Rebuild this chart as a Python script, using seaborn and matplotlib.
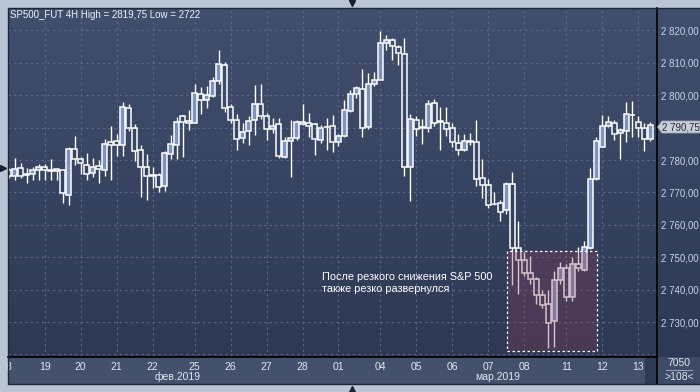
import numpy as np
import pandas as pd
import matplotlib
matplotlib.use("Agg")
import matplotlib.pyplot as plt
from matplotlib.patches import Rectangle, Polygon
import seaborn as sns

# ============================================================================
# DATA  (4H candles, SP500 futures, 18 Feb - 13 Mar 2019)
# ============================================================================

opens = [2777.0, 2775.0, 2777.4, 2775.5, 2775.8, 2776.8, 2778.0, 2776.8, 2776.5, 2776.8,
         2769.2, 2783.5, 2780.2, 2778.6, 2776.1, 2778.3, 2776.8, 2785.5, 2785.8, 2784.5,
         2796.2, 2790.0, 2783.0, 2777.8, 2775.3, 2775.3, 2772.1, 2781.9, 2784.8, 2793.6,
         2792.0, 2791.3, 2800.3, 2798.4, 2799.9, 2804.5, 2809.5, 2796.4, 2792.5, 2786.9,
         2789.1, 2792.5, 2797.4, 2793.7, 2789.6, 2791.0, 2781.0, 2785.9, 2786.8, 2791.6,
         2791.3, 2791.0, 2786.3, 2790.2, 2790.6, 2785.5, 2787.5, 2795.0, 2800.5, 2802.0,
         2790.3, 2803.5, 2804.8, 2816.2, 2817.1, 2815.0, 2812.7, 2777.9, 2792.4, 2790.0,
         2790.0, 2797.7, 2791.8, 2791.5, 2789.9, 2785.4, 2783.2, 2785.7, 2785.6, 2774.5,
         2772.4, 2766.4, 2766.6, 2764.5, 2772.7, 2752.9, 2749.1, 2745.0, 2743.4, 2738.3,
         2735.7, 2730.3, 2743.1, 2746.8, 2737.6, 2747.9, 2746.2, 2753.0, 2774.1, 2783.9,
         2790.6, 2791.3, 2788.5, 2789.0, 2793.8, 2791.8, 2790.0, 2786.6]
highs = [2777.5, 2780.5, 2779.0, 2777.7, 2778.0, 2778.7, 2778.7, 2780.2, 2777.2, 2777.0,
         2784.1, 2787.3, 2781.0, 2782.2, 2780.5, 2780.0, 2786.6, 2790.6, 2788.0, 2797.8,
         2797.2, 2791.0, 2784.6, 2781.8, 2778.0, 2776.1, 2782.8, 2787.7, 2793.3, 2793.8,
         2795.4, 2803.4, 2802.6, 2802.9, 2805.7, 2814.0, 2810.2, 2797.4, 2794.1, 2791.3,
         2793.5, 2803.1, 2803.4, 2794.5, 2793.1, 2793.1, 2787.1, 2792.5, 2792.5, 2797.2,
         2794.5, 2791.3, 2790.7, 2793.1, 2793.8, 2788.2, 2798.4, 2801.5, 2803.0, 2808.2,
         2806.9, 2807.3, 2819.75, 2818.5, 2817.8, 2815.6, 2817.8, 2794.3, 2793.5, 2792.7,
         2798.4, 2798.9, 2796.5, 2796.5, 2791.3, 2788.2, 2788.2, 2788.5, 2792.5, 2780.2,
         2774.3, 2770.2, 2767.6, 2773.2, 2776.3, 2761.1, 2751.6, 2750.3, 2743.8, 2739.8,
         2739.8, 2745.7, 2748.6, 2748.0, 2750.2, 2753.1, 2755.0, 2777.7, 2787.1, 2793.8,
         2793.5, 2792.3, 2790.0, 2797.8, 2798.1, 2793.5, 2791.3, 2791.6]
lows = [2774.5, 2774.0, 2774.6, 2773.0, 2774.0, 2774.0, 2774.0, 2774.0, 2774.0, 2766.6,
        2766.0, 2778.4, 2775.8, 2774.0, 2774.8, 2773.0, 2775.1, 2773.7, 2781.2, 2781.4,
        2789.0, 2779.8, 2768.6, 2767.6, 2771.4, 2770.1, 2770.5, 2780.2, 2780.3, 2781.0,
        2789.4, 2791.3, 2794.1, 2796.1, 2799.5, 2803.6, 2794.9, 2791.3, 2783.0, 2785.3,
        2784.6, 2787.7, 2792.7, 2786.1, 2788.4, 2780.5, 2780.5, 2774.7, 2786.1, 2790.7,
        2787.1, 2781.7, 2785.3, 2783.0, 2782.5, 2784.3, 2787.0, 2794.8, 2799.1, 2787.1,
        2789.5, 2802.8, 2804.8, 2814.0, 2811.0, 2809.2, 2775.0, 2767.3, 2787.4, 2784.9,
        2788.8, 2790.5, 2783.2, 2787.4, 2784.0, 2781.5, 2782.8, 2784.8, 2772.0, 2768.3,
        2765.2, 2766.0, 2761.2, 2763.5, 2741.4, 2738.6, 2744.3, 2741.6, 2735.7, 2734.4,
        2722.0, 2722.3, 2741.7, 2736.5, 2736.5, 2745.7, 2745.7, 2752.7, 2773.8, 2783.9,
        2790.2, 2786.1, 2780.2, 2785.6, 2787.1, 2787.1, 2782.8, 2785.9]
closes = [2775.0, 2777.3, 2775.2, 2775.3, 2776.8, 2778.0, 2776.8, 2776.5, 2777.1, 2769.7,
          2783.5, 2780.2, 2779.0, 2775.8, 2778.0, 2777.1, 2785.1, 2784.8, 2784.5, 2796.3,
          2790.0, 2782.7, 2778.0, 2775.1, 2775.2, 2771.7, 2782.1, 2785.1, 2791.6, 2791.9,
          2791.3, 2800.7, 2798.4, 2800.0, 2804.5, 2809.8, 2796.2, 2792.5, 2786.6, 2788.8,
          2792.2, 2797.4, 2793.7, 2789.7, 2790.6, 2781.2, 2785.8, 2786.8, 2791.8, 2791.0,
          2790.6, 2786.6, 2790.0, 2790.1, 2785.6, 2787.3, 2795.5, 2800.5, 2802.3, 2790.0,
          2803.5, 2804.8, 2816.2, 2817.1, 2815.3, 2813.1, 2777.9, 2792.7, 2789.7, 2789.9,
          2797.4, 2791.5, 2791.7, 2789.7, 2785.6, 2783.2, 2786.0, 2785.6, 2774.3, 2772.4,
          2766.0, 2766.3, 2764.0, 2772.7, 2753.0, 2749.3, 2745.0, 2743.4, 2738.5, 2735.4,
          2729.8, 2742.9, 2746.8, 2737.6, 2747.9, 2746.8, 2753.1, 2774.3, 2785.9, 2790.6,
          2791.6, 2788.2, 2789.4, 2794.1, 2793.8, 2790.0, 2786.5, 2790.75]

day_pos = [0, 6, 12, 18, 24, 31, 37, 43, 49, 55, 62, 68, 74, 80, 86, 93, 99, 105]
day_labels = ["8", "19", "20", "21", "22", "25", "26", "27", "28", "01",
              "04", "05", "06", "07", "08", "11", "12", "13"]
month_labels = ["фев.2019", "мар.2019"]
month_pos = [28.2, 81.5]
price_ticks = [2730, 2740, 2750, 2760, 2770, 2780, 2790, 2800, 2810, 2820]

df = pd.DataFrame({"open": opens, "high": highs, "low": lows, "close": closes})
df["x"] = np.arange(len(df))
df["up"] = df["close"] >= df["open"]

# ============================================================================
# PLOT
# ============================================================================

sns.set_theme(style="dark")
plt.rcParams["font.family"] = ["Liberation Sans", "DejaVu Sans"]

W, H = 700, 392
fig = plt.figure(figsize=(7, 3.92), dpi=100, facecolor="#b9c4d4")


def fx(px):
    return px / W


def fy(py):
    return 1 - py / H


# dark gradient background + date strip (in a back axes)
bg = fig.add_axes([fx(8), fy(384), fx(692), 376 / H], zorder=-1)
grad = np.linspace(0, 1, 256).reshape(-1, 1)
cmap = matplotlib.colors.LinearSegmentedColormap.from_list("bg", ["#414f6e", "#2b3752"])
bg.imshow(grad, aspect="auto", cmap=cmap, extent=[0, 1, 0, 1], origin="upper")
bg.set_xlim(0, 1)
bg.set_ylim(0, 1)
bg.set_axis_off()
for (x0, w, c) in [(8, 637, "#44516d"), (645, 12, "#2e3a52"), (657, 43, "#3e4b66")]:
    bg.add_patch(Rectangle((fx(x0), fy(384)), fx(w), 27 / H, transform=fig.transFigure,
                           facecolor=c, edgecolor="none", clip_on=False))

ax = fig.add_axes([fx(8.3), fy(356.7), fx(657 - 8.3), (356.7 - 8.3) / H])
ax.set_facecolor("none")
ax.set_xlim(-0.05, 108.1)
ax.set_ylim(2719.3, 2826.85)

# grid
for p in np.arange(2720, 2830, 10):
    ax.axhline(p, color="#5b6987", lw=0.8, ls=(0, (2, 3)), zorder=0)
for d in day_pos[1:]:
    ax.axvline(d, color="#5b6987", lw=0.8, ls=(0, (2, 3)), zorder=0)

# candles
blue = "#7d94c0"
top = df[["open", "close"]].max(axis=1)
bot = df[["open", "close"]].min(axis=1)
ax.vlines(df["x"], top, df["high"], color="white", lw=1.0, zorder=2)
ax.vlines(df["x"], df["low"], bot, color="white", lw=1.0, zorder=2)
height = (top - bot).clip(lower=0.25)
ax.bar(df["x"], height, bottom=bot, width=0.72,
       color=[blue if u else "none" for u in df["up"]],
       edgecolor="white", linewidth=1.1, zorder=3)

# highlighted area
ax.add_patch(Rectangle((83.1, 2721.1), 15.0, 30.8, facecolor="#8a3a5a", alpha=0.3,
                       edgecolor="none", zorder=4))
ax.add_patch(Rectangle((83.1, 2721.1), 15.0, 30.8, facecolor="none", edgecolor="white",
                       lw=0.9, ls=(0, (2, 2)), zorder=5))
ax.text(52.3, 2738.6, "После резкого снижения S&P 500\nтакже резко развернулся",
        color="white", fontsize=7.8, linespacing=1.25, va="bottom", ha="left", zorder=6)

# axes styling
for s in ["left", "top"]:
    ax.spines[s].set_visible(False)
ax.spines["right"].set_color("black")
ax.spines["bottom"].set_color("black")
ax.spines["right"].set_linewidth(1.2)
ax.spines["bottom"].set_linewidth(1.2)
ax.yaxis.tick_right()
ax.set_yticks(price_ticks)
ax.set_yticklabels([f"{p:,.2f}".replace(",", " ").replace(".", ",") for p in price_ticks])
ax.tick_params(axis="y", length=0, pad=3, labelsize=7, labelcolor="#c5d2ea")
ax.set_xticks(day_pos)
ax.set_xticklabels(day_labels)
ax.tick_params(axis="x", length=0, pad=4, labelsize=7.5, labelcolor="#dfe6f2")
ax.grid(False)

for lbl, pos in zip(month_labels, month_pos):
    ax.text(pos, -0.058, lbl, transform=ax.get_xaxis_transform(), ha="center", va="center",
            fontsize=7.5, color="#dfe6f2")

# title
fig.text(fx(10), fy(15), "SP500_FUT 4H High = 2819,75 Low = 2722", fontsize=7,
         color="#eef2f8", va="center", ha="left")

# last price tag
tag = Polygon([(fx(657.5), fy(127)), (fx(662), fy(121)), (fx(700), fy(121)),
               (fx(700), fy(133)), (fx(662), fy(133))], closed=True,
              transform=fig.transFigure, facecolor="#c9ced8", edgecolor="#9aa3b4", lw=0.6)
fig.patches.append(tag)
fig.text(fx(661.5), fy(127.5), "2 790,75", fontsize=7, color="#222831", va="center", ha="left")

# bottom-right box
fig.text(fx(679), fy(363.5), "7050", fontsize=7.5, color="#dfe6f2", va="center", ha="center")
fig.lines.append(plt.Line2D([fx(666), fx(692)], [fy(370), fy(370)], transform=fig.transFigure,
                            color="#9aa6bc", lw=0.8))
fig.text(fx(679), fy(376.5), ">108<", fontsize=7.5, color="#dfe6f2", va="center", ha="center")

# frame lines and small scroll triangles
fig.lines.append(plt.Line2D([fx(8), fx(8)], [fy(8), fy(384)], transform=fig.transFigure,
                            color="#1f2638", lw=1))
fig.lines.append(plt.Line2D([fx(8), fx(700)], [fy(8), fy(8)], transform=fig.transFigure,
                            color="#1f2638", lw=1))
fig.lines.append(plt.Line2D([fx(657), fx(657)], [fy(357), fy(384)], transform=fig.transFigure,
                            color="black", lw=1.2))
fig.lines.append(plt.Line2D([fx(8), fx(700)], [fy(384), fy(384)], transform=fig.transFigure,
                            color="#1f2638", lw=1))
for (px, py, m) in [(352, 3, "v"), (3, 168, ">"), (352, 389, "^")]:
    fig.lines.append(plt.Line2D([fx(px)], [fy(py)], transform=fig.transFigure, marker=m,
                                markersize=5, color="#1a2030", lw=0))

plt.savefig("out.png", dpi=100, facecolor=fig.get_facecolor())
